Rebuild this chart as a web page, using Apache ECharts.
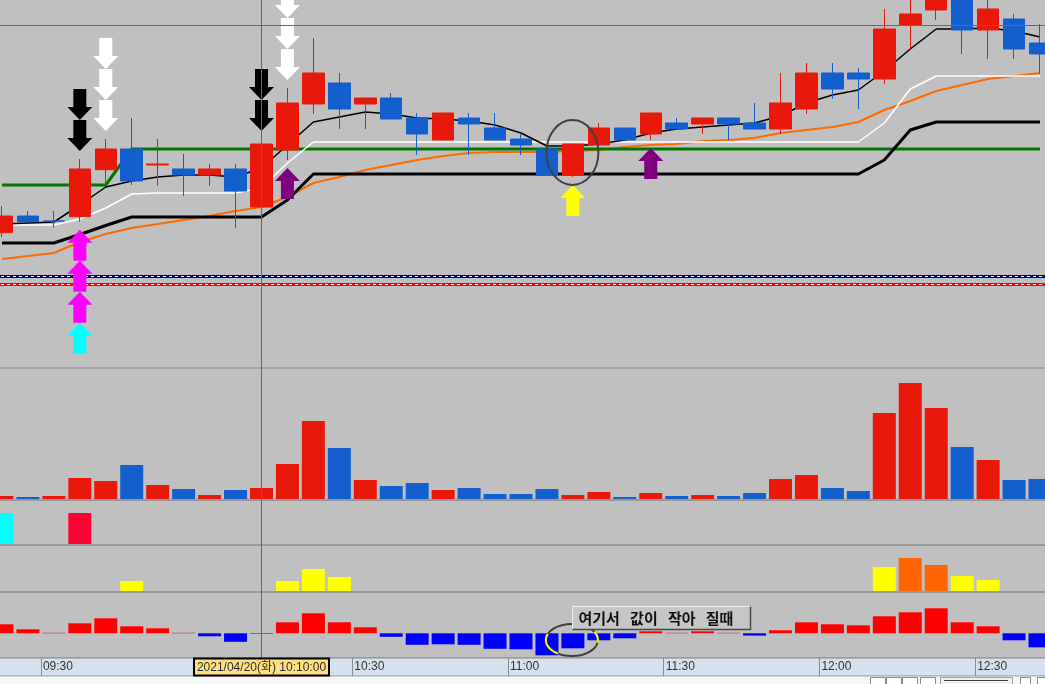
<!DOCTYPE html>
<html><head><meta charset="utf-8">
<script src="https://cdn.jsdelivr.net/npm/echarts@6/dist/echarts.min.js"></script>
<style>html,body{margin:0;padding:0;background:#c0c0c0;overflow:hidden;width:1045px;height:684px;position:relative}#c{position:absolute;left:-11px;top:0;width:1064px;height:684px}</style>
</head><body><div id="c"></div>
<script>
// ---- data (5-minute candles, 2021/04/20) ----
const times = ['09:20','09:25','09:30','09:35','09:40','09:45','09:50','09:55','10:00','10:05',
  '10:10','10:15','10:20','10:25','10:30','10:35','10:40','10:45','10:50','10:55',
  '11:00','11:05','11:10','11:15','11:20','11:25','11:30','11:35','11:40','11:45',
  '11:50','11:55','12:00','12:05','12:10','12:15','12:20','12:25','12:30','12:35','12:40'];
const boundaryTimes = times.concat(['12:45']);
const opens  = [135.3,152,147,151.3,198.3,219,203,199,193,199,161,218,264,285,264,270,250,228,250,240,229,219,193,223,240,234,245,244,250,245,239,259,295,295,289,343,358,375,338,349,325];
const closes = [152,146.3,147,199,219,187,204,193,199,177,224,265,295,259,270,249,234,255,244,228,223,193,224,240,228,255,239,250,244,239,265,295,279,289,339,354,375,338,359,319,314];
const lows   = [131,146,140.3,146.3,182,183,182.3,172,182,140,160,208,254,239,239,249,213,228,213,228,213,193,191,223,228,228,239,234,228,239,234,254,269,259,284,319,348,314,309,309,294];
const highs  = [162,157,157,209,229,250,229,214,204,204,229,280,330,295,270,275,255,255,255,255,235,219,224,245,240,255,250,250,250,265,295,305,305,300,359,372,380,380,370,354,344];
const maShort = [144,145,146,163,181,187,191,193,193,191,200,223,246,251,256,254,250,249,247,243,235,222,222,224,228,235,239,241,243,245,252,265,273,278,297,319,339,339,340,337,331];
const lineWhite = [143,143,143,149,160,174,175,175,175,175,180,205,226,226,226,226,226,226,226,226,226,226,226,226,226,226,226,226,226,226,226,226,226,226,245,279,292,292,292,292,292];
const lineBlackBold = [125,125,125,133.5,142.5,151,151,151,151,151,151,168,194,194,194,194,194,194,194,194,194,194,194,194,194,194,194,194,194,194,194,194,194,194,208,238,246,246,246,246,246];
const lineGreen = [183,183,183,183,183,219,219,219,219,219,219,219,219,219,219,219,219,219,219,219,219,219,219,219,219,219,219,219,219,219,219,219,219,219,219,219,219,219,219,219,219];
const maLong = [109,112,115,126,134,140,144,148,152,157,161,171,185,191,198,203,208,212,215,216,216,216,217,218,221,223,224,227,228,230,235,238,241,246,258,267,277,283,289,292,295];
const volumes = [3,2,3,21,18,34,14,10,4,9,11,35,78,51,19,13,16,9,11,5,5,10,4,7,2,6,3,4,3,6,20,24,11,8,86,116,91,52,39,19,20];
const sigCyanBar    = {0:31};
const sigCrimsonBar = {3:31};
const strengthYellow = {5:10,11:10,12:22,13:14,34:24,37:15,38:11};
const strengthOrange = {35:33,36:26};
const oscillator = [9,4,0.5,10,15,7,5,0.5,-3,-8.5,-0.5,11,20,11,6,-3.5,-11.5,-11,-11.5,-15.5,-16,-22,-15,-7,-5,2,0.5,2,0.5,-2.3,3,11,9,8,17,21,25,11,7,-7,-14];
const sigBlackDown = [3,10];
const sigWhiteDown = [4,11];
const sigMagentaUp = [3];
const sigPurpleUp = [11,25];
const sigYellowUp = [22];
const crossTime = '10:10';
const crossPrice = 342.5;
const levelNavy = 92, levelRed = 84;
const crossLabel = '2021/04/20(화) 10:10:00';
const noteText = '여기서   값이   작아   질때';
const noteIdx = 22, noteOsc = 27.3;
const circleIdx = 22, circlePrice = 215.5, circleOsc = -6.7;

// ---- chart ----
const UP='#e8190b', DN='#135fcd';
const SHIFT = 11; // chart canvas starts 11px left of the window
const chart = echarts.init(document.getElementById('c'));
const crossIdx = times.indexOf(crossTime);

const DOWN_PATH='path://M6,0 L19,0 L19,18 L25,18 L12.5,31 L0,18 L6,18 Z';
const UP_PATH='path://M12.5,0 L25,13 L19,13 L19,31 L6,31 L6,13 L0,13 Z';
const arrows=[];
function addDown(list,count,color){list.forEach(i=>{for(let k=0;k<count;k++)arrows.push({value:[times[i],highs[i]],symbol:DOWN_PATH,symbolSize:[25,31],symbolOffset:[0,-(8+15.5+31*k)],itemStyle:{color,opacity:1}});});}
function addUp(list,colors){list.forEach(i=>{colors.forEach((color,k)=>arrows.push({value:[times[i],lows[i]],symbol:UP_PATH,symbolSize:[25,31],symbolOffset:[0,(8+15.5+31*k)],itemStyle:{color,opacity:1}}));});}
addDown(sigBlackDown,2,'#000000');
addDown(sigWhiteDown,3,'#ffffff');
addUp(sigMagentaUp,['#ff00ff','#ff00ff','#ff00ff','#00ffff']);
addUp(sigPurpleUp,['#800080']);
addUp(sigYellowUp,['#ffff00']);

const gridBase={left:0,right:0,show:true,borderColor:'#8c8c8c',borderWidth:1,backgroundColor:'transparent'};
const grids=[
  {left:0,right:0,top:0,height:368,show:false},
  Object.assign({},gridBase,{top:368,height:132}),
  Object.assign({},gridBase,{top:500,height:45}),
  Object.assign({},gridBase,{top:545,height:47}),
  Object.assign({},gridBase,{top:592,height:66}),
  Object.assign({},gridBase,{top:658,height:18,backgroundColor:'#d6e1ee'})
];
const xAxes=[0,1,2,3,4].map(g=>({type:'category',gridIndex:g,data:times,show:false}));
xAxes.push({type:'category',gridIndex:5,data:boundaryTimes,boundaryGap:false,position:'top',
  axisLine:{show:false},axisTick:{show:false},
  splitLine:{show:true,interval:(i,v)=>/:(00|30)$/.test(v),lineStyle:{color:'#8c8c8c',width:1}},
  axisLabel:{inside:true,margin:3,align:'left',padding:[0,0,0,2],interval:(i,v)=>/:(00|30)$/.test(v),
    color:'#333333',fontFamily:'"Liberation Sans", Arial, sans-serif',fontSize:12}});
const yr=[[0,368],[-1,131],[-1,44],[-1,46],[-24.7,41.3],[0,1]];
const yAxes=yr.map((r,g)=>({type:'value',gridIndex:g,min:r[0],max:r[1],show:false}));

const lineS=(data,color,width,extra)=>Object.assign({type:'line',xAxisIndex:0,yAxisIndex:0,data,symbol:'none',silent:true,z:2,lineStyle:{color,width,opacity:1}},extra||{});
const sparse=(obj)=>times.map((t,i)=>obj[i]===undefined?null:obj[i]);
const hline=(v,color,width,type)=>({silent:true,symbol:['none','none'],label:{show:false},lineStyle:{color,width,type,opacity:1},emphasis:{disabled:true},data:[{yAxis:v}]});

const option={
  animation:false,
  backgroundColor:'#c0c0c0',
  grid:grids, xAxis:xAxes, yAxis:yAxes,
  series:[
    lineS(maLong,'#ff6a00',2),
    lineS(lineGreen,'#007800',3),
    lineS([], '#000080', 3, {markLine:hline(levelNavy,'#000080',3,'solid')}),
    lineS([], '#ffffff', 1, {markLine:hline(levelNavy,'#ffffff',1,[3,3])}),
    lineS([], '#ff0000', 3, {markLine:hline(levelRed,'#ff0000',3,'solid')}),
    lineS([], '#ffffff', 1, {markLine:hline(levelRed,'#ffffff',1,[3,3])}),
    lineS(lineBlackBold,'#000000',3),
    lineS(lineWhite,'#ffffff',1.5),
    lineS(maShort,'#000000',1.5),
    {type:'candlestick',xAxisIndex:0,yAxisIndex:0,z:3,barWidth:22,silent:true,clip:true,
      data:times.map((t,i)=>[opens[i],closes[i],lows[i],highs[i]]),
      itemStyle:{color:UP,color0:DN,borderColor:UP,borderColor0:DN,borderColorDoji:DN,borderWidth:1}},
    {type:'scatter',xAxisIndex:0,yAxisIndex:0,z:5,silent:true,data:arrows},
    {type:'bar',xAxisIndex:1,yAxisIndex:1,barWidth:23,silent:true,
      data:volumes.map((v,i)=>({value:v,itemStyle:{color:closes[i]>=opens[i]?UP:DN}}))},
    {type:'bar',xAxisIndex:2,yAxisIndex:2,barWidth:23,silent:true,data:sparse(sigCyanBar),itemStyle:{color:'#00ffff'}},
    {type:'bar',xAxisIndex:2,yAxisIndex:2,barWidth:23,barGap:'-100%',silent:true,data:sparse(sigCrimsonBar),itemStyle:{color:'#ff0033'}},
    {type:'bar',xAxisIndex:3,yAxisIndex:3,barWidth:23,silent:true,data:sparse(strengthYellow),itemStyle:{color:'#ffff00'}},
    {type:'bar',xAxisIndex:3,yAxisIndex:3,barWidth:23,barGap:'-100%',silent:true,data:sparse(strengthOrange),itemStyle:{color:'#ff6600'}},
    {type:'bar',xAxisIndex:4,yAxisIndex:4,barWidth:23,silent:true,
      data:oscillator.map(v=>({value:v,itemStyle:{color:v>=0?'#ff0000':'#0000ff'}}))}
  ]
};
chart.setOption(option);

// ---- annotations positioned through the chart's own scales ----
const px=(g,i,v)=>chart.convertToPixel({xAxisIndex:g,yAxisIndex:g},[times[i],v]);
const g=[];
// crosshair lines
const cp=px(0,crossIdx,crossPrice);
const vx=Math.floor(cp[0])+0.5;
g.push({type:'line',shape:{x1:vx,y1:0,x2:vx,y2:658},style:{stroke:'#e03434',lineWidth:1},z:7});
g.push({type:'line',shape:{x1:0,y1:Math.floor(cp[1])+0.5,x2:1064,y2:Math.floor(cp[1])+0.5},style:{stroke:'#c04444',lineWidth:1},z:7});
// bottom toolbar strip (window x + SHIFT = chart x)
g.push({type:'rect',shape:{x:0,y:676.5,width:1064,height:8},style:{fill:'#f6f6f6'},z:1});
[870,886,902,920].forEach(x=>g.push({type:'rect',shape:{x:x+SHIFT+0.5,y:677.5,width:15,height:8},style:{fill:'#ffffff',stroke:'#8c8c8c',lineWidth:1},z:2}));
g.push({type:'rect',shape:{x:940+SHIFT+0.5,y:677.5,width:72,height:8},style:{fill:'#f0f0f0',stroke:'#a0a0a0',lineWidth:1},z:2});
g.push({type:'line',shape:{x1:944+SHIFT,y1:680.5,x2:1008+SHIFT,y2:680.5},style:{stroke:'#404040',lineWidth:1},z:3});
[1020,1037].forEach(x=>g.push({type:'rect',shape:{x:x+SHIFT+0.5,y:677.5,width:10,height:8},style:{fill:'#ffffff',stroke:'#8c8c8c',lineWidth:1},z:2}));
// crosshair time label
const cx=cp[0];
g.push({type:'rect',shape:{x:Math.round(cx-67.5),y:658.5,width:135,height:17},style:{fill:'#ffe07a',stroke:'#000000',lineWidth:2},z:10});
g.push({type:'text',x:cx,y:667.5,style:{text:crossLabel,fill:'#2c2c3c',font:'12px "Liberation Sans", "Noto Sans CJK KR", sans-serif',align:'center',verticalAlign:'middle'},z:11});
// price ellipse
const pc=px(0,circleIdx,circlePrice);
g.push({type:'ellipse',shape:{cx:pc[0]-0.5,cy:pc[1],rx:26,ry:32.5},style:{fill:null,stroke:'#404040',lineWidth:2},z:8});
// oscillator ellipse
const oc=px(4,circleIdx,circleOsc);
g.push({type:'ellipse',shape:{cx:oc[0]-1,cy:oc[1],rx:26,ry:16},style:{fill:null,stroke:'#404040',lineWidth:2},z:8});
function arc(c,rx,ry,a0,a1){const pts=[];for(let a=a0;a<=a1;a+=4){const t=a*Math.PI/180;pts.push([c[0]-1+rx*Math.cos(t),c[1]+ry*Math.sin(t)]);}return pts;}
g.push({type:'polyline',shape:{points:arc(oc,26,16,122,205)},style:{stroke:'#ffff00',lineWidth:2,fill:null},z:9});
g.push({type:'polyline',shape:{points:arc(oc,26,16,-30,12)},style:{stroke:'#ffff00',lineWidth:2,fill:null},z:9});
// note box
const nb=px(4,noteIdx,noteOsc);
const bx=Math.round(nb[0]-1.2)+0.5, by=Math.round(nb[1])+0.5, bw=178, bh=23;
g.push({type:'rect',shape:{x:bx,y:by,width:bw,height:bh},style:{fill:'#c6c6c6'},z:12});
g.push({type:'polyline',shape:{points:[[bx,by+bh],[bx,by],[bx+bw,by]]},style:{stroke:'#efefef',lineWidth:1,fill:null},z:13});
g.push({type:'polyline',shape:{points:[[bx,by+bh],[bx+bw,by+bh],[bx+bw,by]]},style:{stroke:'#4a4a4a',lineWidth:1.5,fill:null},z:13});
g.push({type:'text',x:bx+6,y:by+bh/2+0.5,style:{text:noteText,fill:'#111111',font:'bold 15px "Noto Sans CJK KR", sans-serif',align:'left',verticalAlign:'middle'},z:14});
chart.setOption({graphic:g});
</script></body></html>
